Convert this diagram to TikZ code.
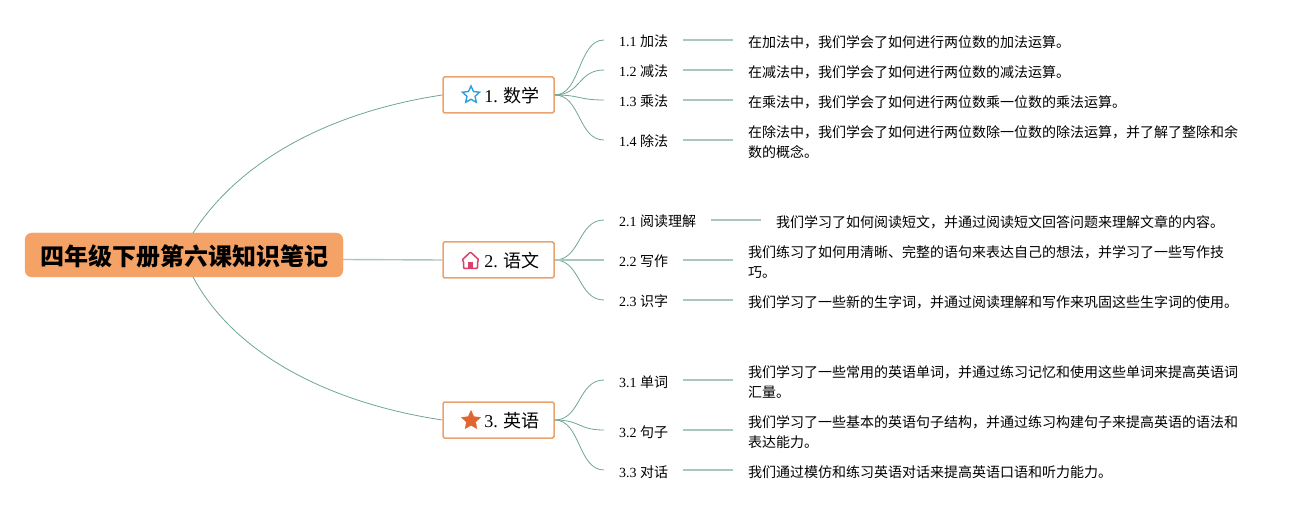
\documentclass[tikz,border=0pt]{standalone}
\usepackage{fontspec}
\setmainfont{Liberation Serif}
\newfontfamily\cjk{Noto Sans CJK SC}
\usepackage{tikz}
\usetikzlibrary{shapes.geometric,arrows.meta,positioning}
\newcommand{\zc}{\symbol{"FF0C}}
\definecolor{rootorange}{HTML}{F4A266}
\definecolor{boxorange}{HTML}{E9A36F}
\definecolor{twiggreen}{HTML}{6FA595}
\definecolor{linegreen}{HTML}{A9C8BD}
\definecolor{starblue}{HTML}{2E9FDC}
\definecolor{housered}{HTML}{D9406A}
\definecolor{stardark}{HTML}{E2652F}
\tikzset{
    rootbox/.style={draw=rootorange, fill=rootorange, rounded corners=7pt, minimum width=318pt, minimum height=44pt, inner sep=0pt, text height=24pt, text depth=2pt, font=\cjk\bfseries\fontsize{24}{28}\selectfont},
    branchbox/.style={draw=boxorange, line width=1.5pt, fill=white, rounded corners=1.5pt, minimum width=111pt, minimum height=36pt, inner sep=0pt, text height=17pt, text depth=2pt, font=\fontsize{18}{22}\selectfont},
    sublabel/.style={anchor=west, inner xsep=15pt, inner ysep=0pt, text height=16pt, text depth=2pt, font=\fontsize{14}{20}\selectfont},
    notetext/.style={anchor=west, inner xsep=15pt, inner ysep=0pt, align=left, font=\cjk\fontsize{14}{20}\selectfont},
    twig/.style={draw=twiggreen, line width=0.8pt},
    stem/.style={draw=linegreen, line width=1.4pt}
}
\begin{document}
\begin{tikzpicture}[x=1pt,y=-1pt]
    \useasboundingbox (0,0) rectangle (1308,510);
    % root and branches
    \node[rootbox] (root) at (184,255) {四年级下册第六课知识笔记};
    \node[branchbox] (math) at (498.5,95) {\hspace*{27pt}1. {\cjk 数学}};
    \node[branchbox] (chinese) at (498.5,260) {\hspace*{27pt}2. {\cjk 语文}};
    \node[branchbox] (english) at (498.5,420) {\hspace*{27pt}3. {\cjk 英语}};
    % icons
    \node[star, star points=5, star point ratio=2.1, draw=starblue, line width=1.4pt, fill=white, minimum size=18pt, inner sep=0pt] (staricon) at (471,95) {};
    \node[star, star points=5, star point ratio=2.1, draw=stardark, fill=stardark, minimum size=20pt, inner sep=0pt] (fullstar) at (471,420.5) {};
    \draw[housered, line width=1.5pt, line join=round, rounded corners=1pt] (462,260) -- (470.5,252) -- (479,260) -- (477.5,261) -- (477.5,268.5) -- (463.5,268.5) -- (463.5,261) -- cycle;
    \fill[housered] (468,268.5) rectangle (473,262.5);
    % topic labels
    \node[sublabel] (s11) at (604,40) {1.1 {\cjk 加法}};
    \node[sublabel] (s12) at (604,70) {1.2 {\cjk 减法}};
    \node[sublabel] (s13) at (604,100) {1.3 {\cjk 乘法}};
    \node[sublabel] (s14) at (604,140) {1.4 {\cjk 除法}};
    \node[sublabel] (s21) at (604,220) {2.1 {\cjk 阅读理解}};
    \node[sublabel] (s22) at (604,260) {2.2 {\cjk 写作}};
    \node[sublabel] (s23) at (604,300) {2.3 {\cjk 识字}};
    \node[sublabel] (s31) at (604,380) {3.1 {\cjk 单词}};
    \node[sublabel] (s32) at (604,430) {3.2 {\cjk 句子}};
    \node[sublabel] (s33) at (604,470) {3.3 {\cjk 对话}};
    % notes
    \node[notetext] (n11) at (733,42) {在加法中\zc 我们学会了如何进行两位数的加法运算。};
    \node[notetext] (n12) at (733,72) {在减法中\zc 我们学会了如何进行两位数的减法运算。};
    \node[notetext] (n13) at (733,102) {在乘法中\zc 我们学会了如何进行两位数乘一位数的乘法运算。};
    \node[notetext] (n14) at (733,142) {在除法中\zc 我们学会了如何进行两位数除一位数的除法运算\zc 并了解了整除和余\\数的概念。};
    \node[notetext] (n21) at (761,222) {我们学习了如何阅读短文\zc 并通过阅读短文回答问题来理解文章的内容。};
    \node[notetext] (n22) at (733,262) {我们练习了如何用清晰、完整的语句来表达自己的想法\zc 并学习了一些写作技\\巧。};
    \node[notetext] (n23) at (733,302) {我们学习了一些新的生字词\zc 并通过阅读理解和写作来巩固这些生字词的使用。};
    \node[notetext] (n31) at (733,382) {我们学习了一些常用的英语单词\zc 并通过练习记忆和使用这些单词来提高英语词\\汇量。};
    \node[notetext] (n32) at (733,432) {我们学习了一些基本的英语句子结构\zc 并通过练习构建句子来提高英语的语法和\\表达能力。};
    \node[notetext] (n33) at (733,472) {我们通过模仿和练习英语对话来提高英语口语和听力能力。};
    % root connectors
    \coordinate (rootup) at (193,233);
    \coordinate (rootright) at (343,259.5);
    \coordinate (rootdown) at (193,277);
    \draw[twig] (rootup) .. controls (240,160) and (330,112) .. (math.west);
    \draw[stem] (rootright) -- (chinese.west);
    \draw[twig] (rootdown) .. controls (235,355) and (330,403) .. (english.west);
    % branch to topic
    \foreach \b/\s in {math/s11,math/s12,math/s13,math/s14,chinese/s21,chinese/s23,english/s31,english/s32,english/s33}{
        \draw[twig] (\b.east) .. controls ([xshift=26pt]\b.east) and ([xshift=-26pt]\s.west) .. (\s.west);
    }
    \draw[stem] (chinese.east) -- (s22.west);
    % topic to note
    \foreach \s/\n in {s11/n11,s12/n12,s13/n13,s14/n14,s21/n21,s22/n22,s23/n23,s31/n31,s32/n32,s33/n33}{
        \draw[stem] (\s.east) -- (\s.east -| \n.west);
    }
\end{tikzpicture}
\end{document}
